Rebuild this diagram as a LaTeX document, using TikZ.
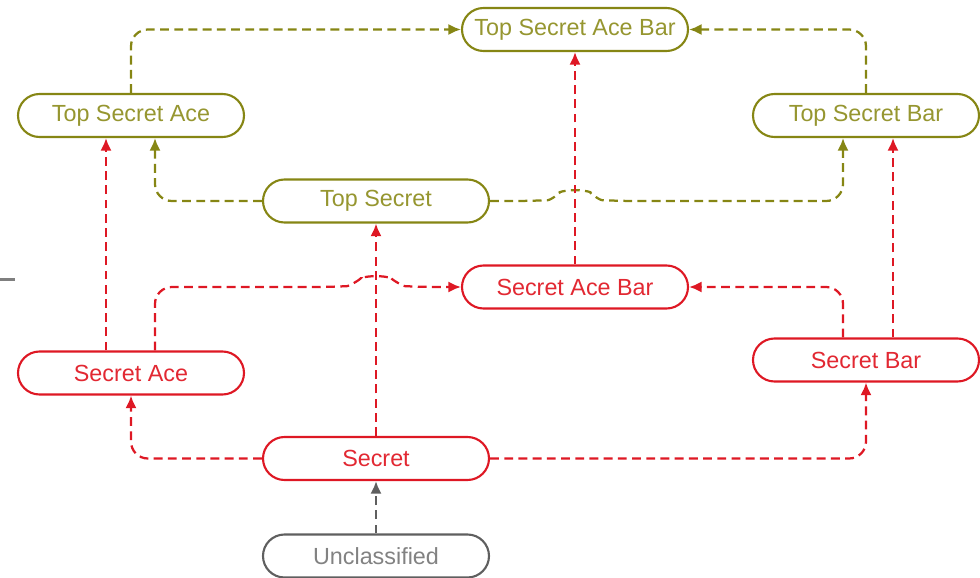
\documentclass[tikz,border=0pt]{standalone}
\usepackage{fontspec}
\setmainfont{Liberation Sans}
\usetikzlibrary{shapes.misc,arrows.meta}

\newlength{\du}
\setlength{\du}{0.025cm}

\definecolor{olivecol}{RGB}{134,134,20}
\definecolor{olivetext}{RGB}{150,150,48}
\definecolor{redcol}{RGB}{222,24,36}
\definecolor{redtext}{RGB}{226,40,50}
\definecolor{graycol}{RGB}{95,95,95}
\definecolor{graytext}{RGB}{130,130,130}

\tikzset{
  classbox/.style={rounded rectangle, draw, line width=1.5pt, fill=white,
    minimum width=226\du, minimum height=43\du, inner sep=0pt,
    font=\fontsize{16.6}{19}\selectfont},
  topbox/.style={classbox, draw=olivecol, text=olivetext},
  secbox/.style={classbox, draw=redcol, text=redtext},
  uncbox/.style={classbox, draw=graycol, text=graytext},
  flow/.style={line width=1.6pt, dash pattern=on 6.3pt off 3.8pt,
    rounded corners=12pt, -{Latex[length=9pt,width=8pt]}},
  topflow/.style={flow, draw=olivecol},
  secflow/.style={flow, draw=redcol},
  uncflow/.style={flow, draw=graycol},
}

\begin{document}
\begin{tikzpicture}[x=\du, y=-\du]
\useasboundingbox (0,0) rectangle (980,578);

% lattice of levels
\node[topbox] (tsacebar) at (575,29.5) {Top Secret Ace Bar};
\node[topbox] (tsace) at (131,115.5) {Top Secret Ace};
\node[topbox] (tsbar) at (866,115.5) {Top Secret Bar};
\node[topbox] (ts) at (376,201) {Top Secret};
\node[secbox] (sacebar) at (575,287) {Secret Ace Bar};
\node[secbox] (sace) at (131,373) {Secret Ace};
\node[secbox] (sbar) at (866,360) {Secret Bar};
\node[secbox] (s) at (376,458.5) {Secret};
\node[uncbox] (unc) at (376,556) {Unclassified};

% crossing points (line hops)
\coordinate (hopA) at (s.north |- sacebar.west);
\coordinate (hopB) at (sacebar.north |- ts.east);

% top secret level
\draw[topflow] (tsace.north) |- (tsacebar.west);
\draw[topflow] (tsbar.north) |- (tsacebar.east);
\draw[topflow] (ts.west) -| ([xshift=24\du]tsace.south);
\draw[topflow] (ts.east) -- ([shift={(-44,0)}]hopB)
  .. controls ([shift={(-24,-1)}]hopB) and ([shift={(-12,-10)}]hopB) .. ([shift={(0,-14)}]hopB)
  .. controls ([shift={(12,-10)}]hopB) and ([shift={(24,-1)}]hopB) .. ([shift={(44,0)}]hopB)
  -| ([xshift=-23\du]tsbar.south);

% secret level
\draw[secflow] (sacebar.north) -- (tsacebar.south);
\draw[secflow] (s.north) -- (ts.south);
\draw[secflow] (s.west) -| (sace.south);
\draw[secflow] (s.east) -| (sbar.south);
\draw[secflow] ([xshift=-25\du]sace.north) -- ([xshift=-25\du]tsace.south);
\draw[secflow] ([xshift=27\du]sbar.north) -- ([xshift=27\du]tsbar.south);
\draw[secflow] ([xshift=24\du]sace.north) |- ([shift={(-46,0)}]hopA)
  .. controls ([shift={(-26,-1)}]hopA) and ([shift={(-12,-10)}]hopA) .. ([shift={(0,-14)}]hopA)
  .. controls ([shift={(12,-10)}]hopA) and ([shift={(26,-1)}]hopA) .. ([shift={(46,0)}]hopA)
  -- (sacebar.west);
\draw[secflow] ([xshift=-23\du]sbar.north) |- (sacebar.east);

% unclassified
\draw[uncflow] (unc.north) -- (s.south);

\draw[graycol!80, line width=1.5pt] (0,279.5) -- (15,279.5);
\end{tikzpicture}
\end{document}
